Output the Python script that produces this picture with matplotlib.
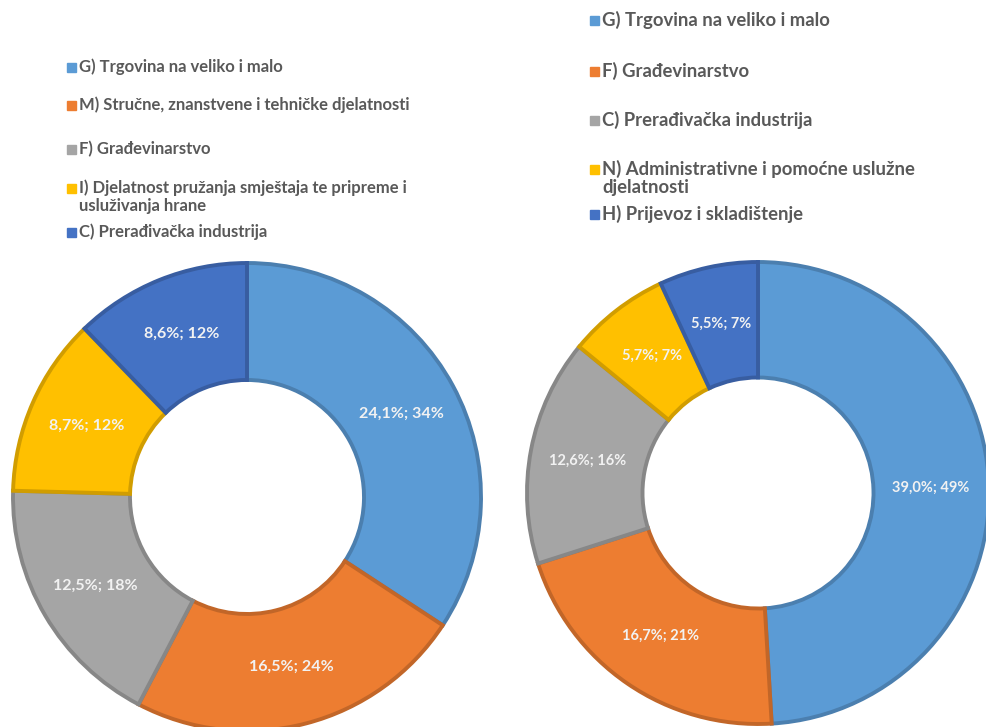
import numpy as np
import matplotlib.pyplot as plt
from matplotlib.colors import to_rgb
from matplotlib.patches import Rectangle

W, H = 987, 727

left_labels = ['G) Trgovina na veliko i malo',
               'M) Stručne, znanstvene i tehničke djelatnosti',
               'F) Građevinarstvo',
               'I) Djelatnost pružanja smještaja te pripreme i\nusluživanja hrane',
               'C) Prerađivačka industrija']
left_values = [24.1, 16.5, 12.5, 8.7, 8.6]
left_shares = [34, 24, 18, 12, 12]

right_labels = ['G) Trgovina na veliko i malo',
                'F) Građevinarstvo',
                'C) Prerađivačka industrija',
                'N) Administrativne i pomoćne uslužne\ndjelatnosti',
                'H) Prijevoz i skladištenje']
right_values = [39.0, 16.7, 12.6, 5.7, 5.5]
right_shares = [49, 21, 16, 7, 7]

colors = ['#5B9BD5', '#ED7D31', '#A5A5A5', '#FFC000', '#4472C4']

plt.rcParams['font.family'] = ['Lato', 'DejaVu Sans']


def darker(c, f=0.82):
    return tuple(v * f for v in to_rgb(c))


def fmt(v):
    return f'{v:.1f}'.replace('.', ',') + '%'


def donut(fig, cx, cy, r, values, shares, fs):
    ax = fig.add_axes([(cx - r) / W, (H - cy - r) / H, 2 * r / W, 2 * r / H])
    wedges, _ = ax.pie(values, colors=colors, startangle=90, counterclock=False,
                       radius=1.0,
                       wedgeprops=dict(width=0.5, linewidth=2.8,
                                       edgecolor='none'))
    for w, c in zip(wedges, colors):
        w.set_edgecolor(darker(c))
        w.set_clip_on(False)
        w.set_joinstyle('miter')
    total = sum(values)
    start = 90.0
    for v, s in zip(values, shares):
        span = v / total * 360
        mid = np.deg2rad(start - span / 2)
        ax.text(0.75 * np.cos(mid), 0.75 * np.sin(mid), f'{fmt(v)}; {s}%',
                ha='center', va='center', color='#F2F2F2', fontsize=fs,
                fontweight='bold')
        start -= span
    ax.set_xlim(-1, 1)
    ax.set_ylim(-1, 1)
    ax.set_aspect('equal')
    ax.axis('off')
    return ax


def legend(fig, x, ys, labels, size, fs, lh):
    for y, lab, c in zip(ys, labels, colors):
        fig.patches.append(Rectangle((x / W, (H - y - size / 2) / H),
                                     size / W, size / H, color=c,
                                     transform=fig.transFigure))
        for i, line in enumerate(lab.split('\n')):
            fig.text((x + size + 3) / W, (H - y - i * lh) / H, line,
                     ha='left', va='center', color='#595959', fontsize=fs,
                     fontweight='bold', transform=fig.transFigure)


fig = plt.figure(figsize=(W / 100, H / 100), dpi=100)

donut(fig, 247, 497, 234, left_values, left_shares, 11.5)
donut(fig, 758, 493, 231, right_values, right_shares, 10.5)

# legend rows: y centre of the first text line
legend(fig, 67, [67, 105, 149, 188, 232], left_labels, 9, 12, 18)
legend(fig, 590, [20, 71, 120, 169, 214], right_labels, 9, 13.3, 18)

fig.savefig('out.png', dpi=100)
